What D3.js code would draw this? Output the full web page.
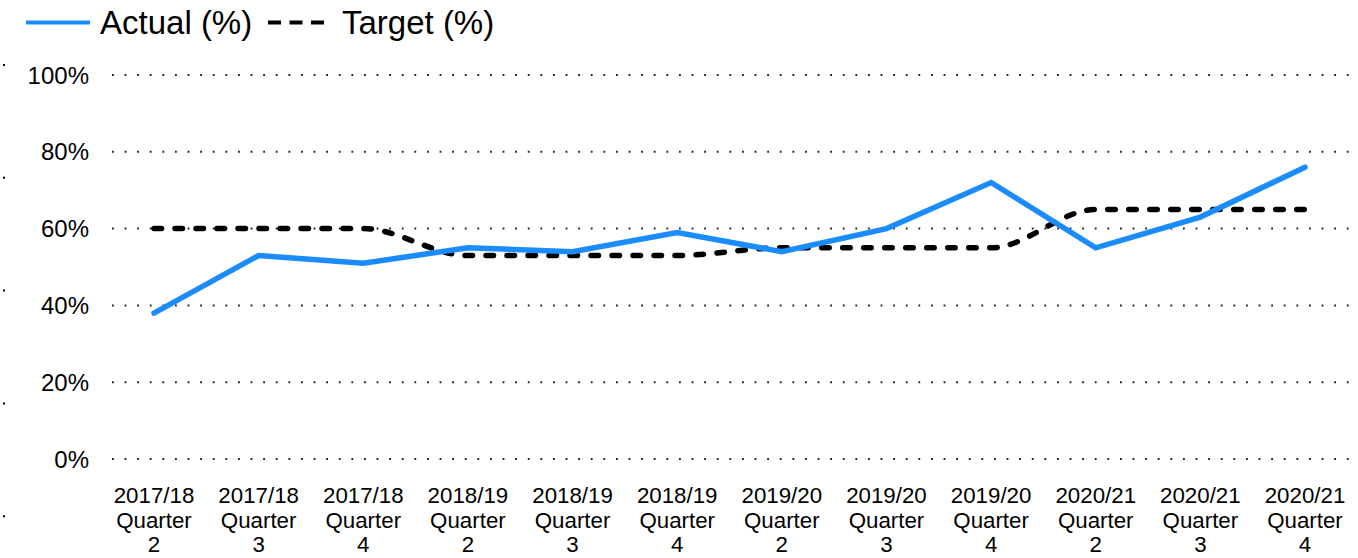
<!DOCTYPE html>
<html><head><meta charset="utf-8">
<script src="https://cdn.jsdelivr.net/npm/d3@7"></script>
<style>body{margin:0;background:#fff}text{font-family:"Liberation Sans",Arial,sans-serif;fill:#000}</style>
</head><body><svg id="c" width="1358" height="558"></svg>
<script>
const categories = [
  ["2017/18","Quarter","2"],["2017/18","Quarter","3"],["2017/18","Quarter","4"],
  ["2018/19","Quarter","2"],["2018/19","Quarter","3"],["2018/19","Quarter","4"],
  ["2019/20","Quarter","2"],["2019/20","Quarter","3"],["2019/20","Quarter","4"],
  ["2020/21","Quarter","2"],["2020/21","Quarter","3"],["2020/21","Quarter","4"]
];
const actual = [38, 53, 51, 55, 54, 59, 54, 60, 72, 55, 63, 76];
const target = [60, 60, 60, 53, 53, 53, 55, 55, 55, 65, 65, 65];
const yTicks = [0, 20, 40, 60, 80, 100];

const svg = d3.select("#c");
const keys = categories.map(c => c.join(" "));
const x = d3.scalePoint().domain(keys).range([154, 1305]);
const y = d3.scaleLinear().domain([0, 100]).range([459, 75]);

// left edge dotted artifact
svg.append("line").attr("x1", 4).attr("x2", 4).attr("y1", 64).attr("y2", 520)
  .attr("stroke", "#000").attr("stroke-width", 2).attr("stroke-dasharray", "2,110.8");

// gridlines
svg.append("g").selectAll("line").data(yTicks).join("line")
  .attr("x1", 112).attr("x2", 1352)
  .attr("y1", d => y(d)).attr("y2", d => y(d))
  .attr("stroke", "#222").attr("stroke-width", 2)
  .attr("stroke-dasharray", "1.8,10.8");

// y labels
svg.append("g").selectAll("text").data(yTicks).join("text")
  .attr("x", 89).attr("y", d => y(d) + 8.5)
  .attr("text-anchor", "end").attr("font-size", 24)
  .text(d => d + "%");

// x labels
const xl = svg.append("g").selectAll("text").data(categories).join("text")
  .attr("text-anchor", "middle").attr("font-size", 22.3)
  .attr("transform", (d, i) => `translate(${x(keys[i])},503)`);
xl.selectAll("tspan").data(d => d).join("tspan")
  .attr("x", 0).attr("y", (d, j) => j * 24.5).text(d => d);

// target line
const lineT = d3.line().x((d, i) => x(keys[i])).y(d => y(d)).curve(d3.curveMonotoneX);
svg.append("path").datum(target).attr("d", lineT)
  .attr("fill", "none").attr("stroke", "#000").attr("stroke-width", 5.5)
  .attr("stroke-linecap", "round").attr("stroke-dasharray", "7.5,13.5");

// actual line
const lineA = d3.line().x((d, i) => x(keys[i])).y(d => y(d));
svg.append("path").datum(actual).attr("d", lineA)
  .attr("fill", "none").attr("stroke", "#1a8cff").attr("stroke-width", 5.5)
  .attr("stroke-linecap", "round").attr("stroke-linejoin", "miter");

// legend
const lg = svg.append("g");
lg.append("line").attr("x1", 26).attr("x2", 90).attr("y1", 22.5).attr("y2", 22.5)
  .attr("stroke", "#1a8cff").attr("stroke-width", 4);
lg.append("text").attr("x", 100).attr("y", 33.5).attr("font-size", 33).text("Actual (%)");
lg.append("line").attr("x1", 268).attr("x2", 332).attr("y1", 22.5).attr("y2", 22.5)
  .attr("stroke", "#000").attr("stroke-width", 4).attr("stroke-dasharray", "13,8.5");
lg.append("text").attr("x", 342).attr("y", 33.5).attr("font-size", 33).text("Target (%)");
</script></body></html>
